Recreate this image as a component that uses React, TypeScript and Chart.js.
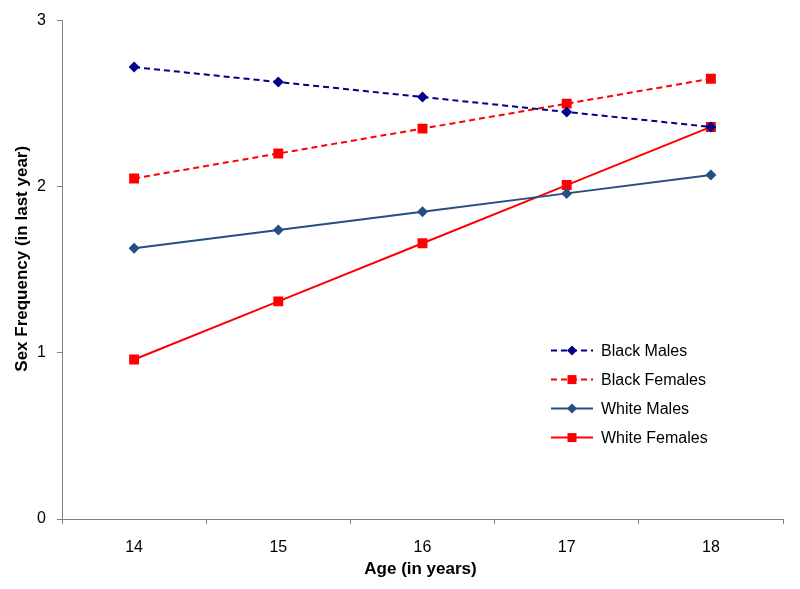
import React, { useEffect, useRef } from "react";
import { Chart, registerables } from "chart.js";

Chart.register(...registerables);

const ages = ["14", "15", "16", "17", "18"];
const blackMales = [2.72, 2.63, 2.54, 2.45, 2.36];
const blackFemales = [2.05, 2.2, 2.35, 2.5, 2.65];
const whiteMales = [1.63, 1.74, 1.85, 1.96, 2.07];
const whiteFemales = [0.96, 1.31, 1.66, 2.01, 2.36];
const yTicks = [0, 1, 2, 3];
const xTitle = "Age (in years)";
const yTitle = "Sex Frequency (in last year)";

const FONT = "Arial, 'Liberation Sans', sans-serif";
const NAVY = "#00008B";
const RED = "#FF0000";
const STEEL = "#264E82";

const legendPlugin = {
  id: "insideLegend",
  afterDraw(chart: any) {
    const ctx = chart.ctx;
    const area = chart.chartArea;
    const items = chart.data.datasets;
    const x0 = area.left + (551 - 62);
    const y0 = area.top + (350 - 20);
    ctx.save();
    items.forEach((ds: any, i: number) => {
      const y = y0 + i * 29;
      ctx.strokeStyle = ds.borderColor;
      ctx.lineWidth = 2;
      ctx.setLineDash(ds.borderDash || []);
      ctx.beginPath();
      ctx.moveTo(x0, y);
      ctx.lineTo(x0 + 42, y);
      ctx.stroke();
      ctx.setLineDash([]);
      ctx.fillStyle = ds.pointBackgroundColor;
      const cx = x0 + 21;
      if (ds.pointStyle === "rect") {
        const s = 4.5;
        ctx.fillRect(cx - s, y - s, 2 * s, 2 * s);
      } else {
        const r = 5;
        ctx.beginPath();
        ctx.moveTo(cx, y - r);
        ctx.lineTo(cx + r, y);
        ctx.lineTo(cx, y + r);
        ctx.lineTo(cx - r, y);
        ctx.closePath();
        ctx.fill();
      }
      ctx.fillStyle = "#000";
      ctx.font = `16px ${FONT}`;
      ctx.textAlign = "left";
      ctx.textBaseline = "middle";
      ctx.fillText(ds.label, x0 + 50, y + 1);
    });
    // axis titles
    ctx.fillStyle = "#000";
    ctx.font = `bold 17px ${FONT}`;
    ctx.textAlign = "center";
    ctx.textBaseline = "middle";
    ctx.fillText(xTitle, (area.left + area.right) / 2 - 2, area.bottom + 50);
    ctx.save();
    ctx.translate(22, (area.top + area.bottom) / 2 - 11);
    ctx.rotate(-Math.PI / 2);
    ctx.fillText(yTitle, 0, 0);
    ctx.restore();
    ctx.restore();
  },
};

export default function App() {
  const ref = useRef<HTMLCanvasElement>(null);
  useEffect(() => {
    document.body.style.margin = "0";
    const mk = (label: string, data: number[], color: string, style: string, dash: number[], r: number) => ({
      label,
      data,
      borderColor: color,
      backgroundColor: color,
      pointBackgroundColor: color,
      pointBorderColor: color,
      pointBorderWidth: 0,
      pointStyle: style,
      pointRadius: r,
      borderWidth: 2,
      borderDash: dash,
      tension: 0,
    });
    const chart = new Chart(ref.current!, {
      type: "line",
      data: {
        labels: ages,
        datasets: [
          mk("Black Males", blackMales, NAVY, "rectRot", [6, 4], 5.5),
          mk("Black Females", blackFemales, RED, "rect", [6, 4], 7),
          mk("White Males", whiteMales, STEEL, "rectRot", [], 5.5),
          mk("White Females", whiteFemales, RED, "rect", [], 7),
        ],
      },
      options: {
        responsive: false,
        animation: false,
        layout: { padding: { top: 20, right: 17, left: 0, bottom: 0 } },
        plugins: { legend: { display: false }, tooltip: { enabled: false } },
        scales: {
          x: {
            type: "category",
            offset: true,
            grid: { offset: true, drawOnChartArea: false, drawTicks: true, tickLength: 5, color: "#808080" },
            border: { color: "#808080", width: 1 },
            ticks: { color: "#000", font: { family: FONT, size: 16 }, padding: 14 },
            afterFit(s: any) { s.height = 70; },
          },
          y: {
            min: 0,
            max: 3,
            afterBuildTicks(s: any) { s.ticks = yTicks.map((v) => ({ value: v })); },
            grid: { drawOnChartArea: false, drawTicks: true, tickLength: 5, color: "#808080" },
            border: { color: "#808080", width: 1 },
            ticks: { color: "#000", font: { family: FONT, size: 16 }, padding: 11 },
            afterFit(s: any) { s.width = 62; },
          },
        },
      },
      plugins: [legendPlugin],
    });
    return () => chart.destroy();
  }, []);
  return <canvas ref={ref} width={800} height={589} style={{ display: "block" }} />;
}
